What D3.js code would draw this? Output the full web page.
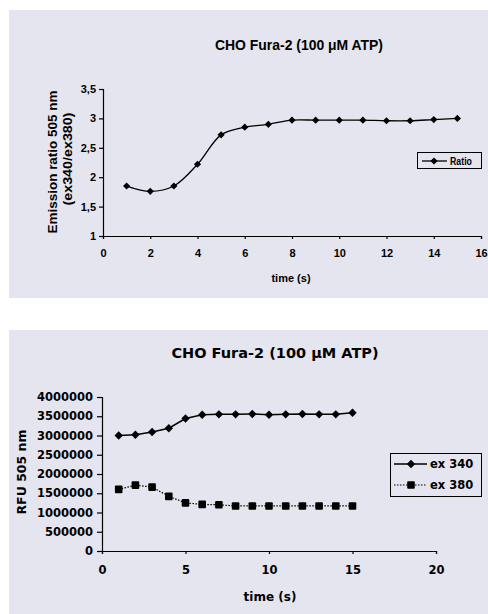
<!DOCTYPE html>
<html><head><meta charset="utf-8">
<script src="https://cdn.jsdelivr.net/npm/d3@7"></script>
<style>
html,body{margin:0;padding:0;background:#fff;}
svg{display:block;}
</style></head>
<body>
<script>
// ---- data ----
const timeTop = [1,2,3,4,5,6,7,8,9,10,11,12,13,14,15];
const ratio = [1.85,1.76,1.85,2.22,2.72,2.85,2.90,2.97,2.97,2.97,2.97,2.96,2.96,2.98,3.00];
const topXTicks = [0,2,4,6,8,10,12,14,16];
const topYTicks = [1,1.5,2,2.5,3,3.5];

const timeBottom = [1,2,3,4,5,6,7,8,9,10,11,12,13,14,15];
const ex340 = [3000000,3020000,3090000,3190000,3440000,3540000,3550000,3550000,3560000,3540000,3550000,3560000,3550000,3550000,3590000];
const ex380 = [1600000,1710000,1660000,1420000,1250000,1210000,1200000,1170000,1170000,1170000,1170000,1170000,1170000,1170000,1170000];
const botXTicks = [0,5,10,15,20];
const botYTicks = [0,500000,1000000,1500000,2000000,2500000,3000000,3500000,4000000];

const BG = "#e5e5ef";
const svg = d3.select("body").append("svg").attr("width",488).attr("height",614);

// ---- panels ----
svg.append("rect").attr("x",9).attr("y",10).attr("width",479).attr("height",288).attr("fill",BG);
svg.append("rect").attr("x",9).attr("y",330).attr("width",479).attr("height",284).attr("fill",BG);

function diamond(g, cx, cy, r){
  g.append("path").attr("d",`M${cx},${cy-r}L${cx+r},${cy}L${cx},${cy+r}L${cx-r},${cy}Z`).attr("fill","#000");
}

// ================= TOP CHART =================
const fTop = "'Liberation Sans', Arial, sans-serif";
const xT = d3.scaleLinear().domain([0,16]).range([103,481]);
const yT = d3.scaleLinear().domain([1,3.5]).range([236,89]);
const gT = svg.append("g");

gT.append("text").attr("x",299).attr("y",50).attr("text-anchor","middle")
  .attr("font-family",fTop).attr("font-weight","bold").attr("font-size",14)
  .attr("textLength",168).attr("lengthAdjust","spacingAndGlyphs")
  .text("CHO Fura-2 (100 μM ATP)");

const axYT = gT.append("g").attr("transform",`translate(${xT(0)},0)`)
  .call(d3.axisLeft(yT).tickValues(topYTicks).tickSize(4).tickPadding(3)
    .tickFormat(d => String(d).replace(".",",")));
const axXT = gT.append("g").attr("transform",`translate(0,${yT(1)})`)
  .call(d3.axisBottom(xT).tickValues(topXTicks).tickSize(3).tickPadding(10));
[axYT, axXT].forEach(a=>{
  a.selectAll("path,line").attr("stroke","#000").attr("stroke-width",1.2);
  a.selectAll("text").attr("font-family",fTop).attr("font-weight","bold").attr("font-size",11).attr("fill","#000");
});

gT.append("text").attr("transform",`translate(57,162) rotate(-90)`).attr("text-anchor","middle")
  .attr("font-family",fTop).attr("font-weight","bold").attr("font-size",13)
  .attr("textLength",143).attr("lengthAdjust","spacingAndGlyphs")
  .text("Emission ratio 505 nm");
gT.append("text").attr("transform",`translate(72,159) rotate(-90)`).attr("text-anchor","middle")
  .attr("font-family",fTop).attr("font-weight","bold").attr("font-size",12)
  .attr("textLength",93).attr("lengthAdjust","spacingAndGlyphs")
  .text("(ex340/ex380)");
gT.append("text").attr("x",291).attr("y",282).attr("text-anchor","middle")
  .attr("font-family",fTop).attr("font-weight","bold").attr("font-size",11)
  .text("time (s)");

const lineT = d3.line().x((d,i)=>xT(timeTop[i])).y(d=>yT(d)).curve(d3.curveCatmullRom.alpha(0.5));
gT.append("path").attr("d",lineT(ratio)).attr("fill","none").attr("stroke","#000").attr("stroke-width",1.3);
ratio.forEach((v,i)=>diamond(gT, xT(timeTop[i]), yT(v), 3.6));

// legend top
const lgT = gT.append("g");
lgT.append("rect").attr("x",417.5).attr("y",152.5).attr("width",64).attr("height",16)
  .attr("fill",BG).attr("stroke","#000").attr("stroke-width",1);
lgT.append("line").attr("x1",422).attr("x2",447).attr("y1",161).attr("y2",161).attr("stroke","#000").attr("stroke-width",1.3);
diamond(lgT, 434, 161, 3.6);
lgT.append("text").attr("x",450).attr("y",165).attr("font-family",fTop).attr("font-weight","bold")
  .attr("font-size",11).attr("textLength",22).attr("lengthAdjust","spacingAndGlyphs").text("Ratio");

// ================= BOTTOM CHART =================
const fBot = "'DejaVu Sans', sans-serif";
const xB = d3.scaleLinear().domain([0,20]).range([102,436]);
const yB = d3.scaleLinear().domain([0,4000000]).range([551,397]);
const gB = svg.append("g");

gB.append("text").attr("x",275).attr("y",358).attr("text-anchor","middle")
  .attr("font-family",fBot).attr("font-weight","bold").attr("font-size",14.5)
  .text("CHO Fura-2 (100 μM ATP)");

const axYB = gB.append("g").attr("transform",`translate(${xB(0)},0)`)
  .call(d3.axisLeft(yB).tickValues(botYTicks).tickSize(5).tickPadding(4).tickFormat(d3.format("d")));
const axXB = gB.append("g").attr("transform",`translate(0,${yB(0)})`)
  .call(d3.axisBottom(xB).tickValues(botXTicks).tickSize(3).tickPadding(12));
[axYB, axXB].forEach(a=>{
  a.selectAll("path,line").attr("stroke","#000").attr("stroke-width",1.2);
  a.selectAll("text").attr("font-family",fBot).attr("font-weight","bold").attr("font-size",11.5).attr("fill","#000");
});

gB.append("text").attr("transform",`translate(26,472) rotate(-90)`).attr("text-anchor","middle")
  .attr("font-family",fBot).attr("font-weight","bold").attr("font-size",12.5)
  .text("RFU 505 nm");
gB.append("text").attr("x",270).attr("y",601).attr("text-anchor","middle")
  .attr("font-family",fBot).attr("font-weight","bold").attr("font-size",12)
  .text("time (s)");

const lineB = d3.line().x((d,i)=>xB(timeBottom[i])).y(d=>yB(d));
gB.append("path").attr("d",lineB(ex340)).attr("fill","none").attr("stroke","#000").attr("stroke-width",1.5);
gB.append("path").attr("d",lineB(ex380)).attr("fill","none").attr("stroke","#000").attr("stroke-width",1.2).attr("stroke-dasharray","1.5,1.5");
ex340.forEach((v,i)=>diamond(gB, xB(timeBottom[i]), yB(v), 4.2));
ex380.forEach((v,i)=>gB.append("rect").attr("x",xB(timeBottom[i])-3.8).attr("y",yB(v)-3.8)
  .attr("width",7.6).attr("height",7.6).attr("rx",1).attr("fill","#000"));

// legend bottom
const lgB = gB.append("g");
lgB.append("rect").attr("x",390.5).attr("y",453.5).attr("width",91).attr("height",43)
  .attr("fill",BG).attr("stroke","#000").attr("stroke-width",1);
lgB.append("line").attr("x1",394).attr("x2",427).attr("y1",464).attr("y2",464).attr("stroke","#000").attr("stroke-width",1.5);
diamond(lgB, 411, 464, 4.2);
lgB.append("text").attr("x",430).attr("y",468).attr("font-family",fBot).attr("font-weight","bold").attr("font-size",11.5).text("ex 340");
lgB.append("line").attr("x1",394).attr("x2",427).attr("y1",485).attr("y2",485).attr("stroke","#000").attr("stroke-width",1.2).attr("stroke-dasharray","1.5,1.5");
lgB.append("rect").attr("x",411-3.8).attr("y",485-3.8).attr("width",7.6).attr("height",7.6).attr("rx",1).attr("fill","#000");
lgB.append("text").attr("x",430).attr("y",489).attr("font-family",fBot).attr("font-weight","bold").attr("font-size",11.5).text("ex 380");
</script>
</body></html>
